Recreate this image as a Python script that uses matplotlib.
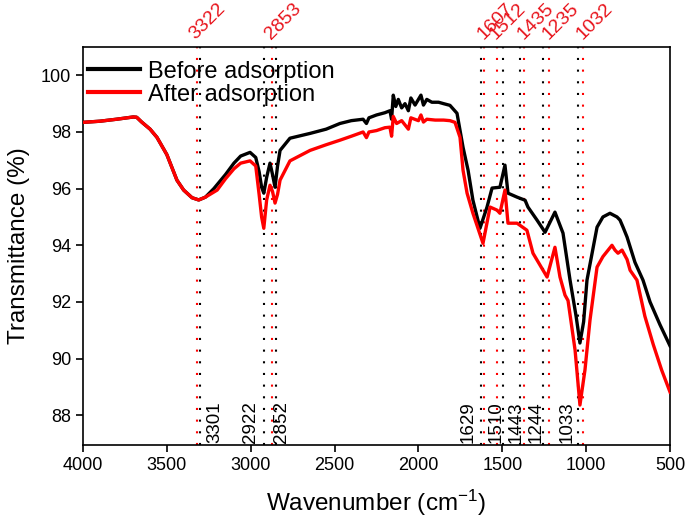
import matplotlib
matplotlib.use("Agg")
import matplotlib.pyplot as plt
import numpy as np

# ============================================================
# DATA
# ============================================================

before_wn = [4000, 3900, 3800, 3700, 3680, 3650, 3600, 3559, 3500, 3440, 3400,
             3350, 3310, 3270, 3220, 3150, 3100, 3060, 3004, 2970, 2950, 2935,
             2922, 2905, 2885, 2870, 2855, 2840, 2825, 2766, 2646, 2550, 2468,
             2400, 2330, 2310, 2295, 2250, 2200, 2170, 2160, 2150, 2135, 2120,
             2100, 2080, 2060, 2045, 2020, 2000, 1985, 1970, 1950, 1920, 1880,
             1850, 1812, 1770, 1734, 1704, 1675, 1633, 1591, 1561, 1514, 1484,
             1466, 1412, 1364, 1347, 1293, 1245, 1186, 1138, 1096, 1060, 1037,
             1015, 995, 935, 900, 858, 816, 798, 780, 756, 709, 661, 619, 560,
             500]
before_T = [98.34, 98.38, 98.45, 98.53, 98.52, 98.35, 98.10, 97.81, 97.20,
            96.30, 95.95, 95.68, 95.60, 95.70, 96.00, 96.50, 96.90, 97.15,
            97.28, 97.10, 96.60, 96.05, 95.84, 96.40, 96.90, 96.50, 96.05,
            96.80, 97.35, 97.78, 97.95, 98.10, 98.30, 98.40, 98.45, 98.30,
            98.50, 98.60, 98.68, 98.75, 98.45, 99.30, 98.90, 99.15, 98.85,
            99.00, 98.75, 99.20, 98.95, 99.15, 99.30, 98.95, 99.15, 99.05,
            99.05, 99.00, 98.94, 98.66, 97.46, 96.65, 95.59, 94.60, 95.35,
            96.02, 96.05, 96.83, 95.84, 95.70, 95.59, 95.35, 94.89, 94.46,
            95.17, 94.43, 92.77, 91.50, 90.55, 91.30, 92.77, 94.64, 95.00,
            95.13, 95.00, 94.89, 94.64, 94.29, 93.40, 92.77, 92.00, 91.20,
            90.45]

after_wn = [4000, 3900, 3800, 3700, 3680, 3650, 3600, 3559, 3500, 3440, 3400,
            3350, 3310, 3270, 3200, 3150, 3100, 3060, 3004, 2970, 2950, 2935,
            2922, 2905, 2885, 2870, 2855, 2840, 2825, 2766, 2646, 2550, 2468,
            2400, 2330, 2310, 2295, 2250, 2200, 2170, 2160, 2150, 2130, 2100,
            2060, 2045, 2000, 1985, 1970, 1950, 1900, 1850, 1812, 1782, 1752,
            1734, 1710, 1675, 1615, 1573, 1531, 1514, 1484, 1466, 1412, 1353,
            1317, 1257, 1233, 1186, 1156, 1126, 1108, 1066, 1037, 1007, 977,
            935, 900, 846, 828, 810, 786, 756, 738, 697, 650, 600, 550, 500]
after_T = [98.34, 98.38, 98.45, 98.53, 98.52, 98.35, 98.10, 97.81, 97.20,
           96.30, 95.95, 95.68, 95.60, 95.70, 95.95, 96.35, 96.70, 96.90,
           96.98, 96.80, 95.80, 95.00, 94.60, 95.60, 96.12, 95.90, 95.49,
           95.80, 96.30, 96.98, 97.35, 97.55, 97.71, 97.85, 98.00, 97.80,
           98.00, 98.05, 98.15, 98.17, 97.85, 98.55, 98.30, 98.40, 98.10,
           98.50, 98.40, 98.60, 98.35, 98.45, 98.42, 98.42, 98.40, 98.34,
           97.81, 96.65, 95.84, 95.13, 94.07, 95.35, 95.24, 95.13, 95.95,
           94.78, 94.78, 94.53, 93.72, 93.12, 92.88, 93.93, 92.88, 92.24,
           92.05, 90.30, 88.36, 89.60, 91.36, 93.23, 93.60, 94.00, 93.83,
           93.72, 93.83, 93.50, 93.12, 92.77, 91.50, 90.50, 89.60, 88.82]

# peak markers: positions where the dotted lines sit, and their labels
red_lines = [3322, 2876, 1607, 1533, 1368, 1220, 1017]
red_labels = ["3322", "2853", "1607", "1512", "1435", "1235", "1032"]

black_lines = [3301, 2922, 2852, 1629, 1494, 1393, 1259, 1047]
black_labels = ["3301", "2922", "2852", "1629", "1510", "1443", "1244", "1033"]
black_label_shift = [15, -13, 6, -13, -7, -4, -7, -11]   # pixels

# ============================================================
# STYLE
# ============================================================

plt.rcParams["font.family"] = ["Liberation Sans", "DejaVu Sans"]
plt.rcParams["mathtext.fontset"] = "custom"
plt.rcParams["mathtext.rm"] = "Liberation Sans"
plt.rcParams["mathtext.it"] = "Liberation Sans:italic"

fig = plt.figure(figsize=(6.85, 5.18), dpi=100)
ax = fig.add_axes([83 / 685, 73 / 518, 587 / 685, 398 / 518])

red_txt = "#e8141c"
dots = (0, (1, 4.6))

# ============================================================
# DOTTED PEAK LINES
# ============================================================

for x in red_lines:
    ax.axvline(x, color="red", lw=1.5, linestyle=dots, zorder=1)

for x in black_lines:
    ax.axvline(x, color="black", lw=1.5, linestyle=dots, zorder=1)

# ============================================================
# SPECTRA
# ============================================================

ax.plot(before_wn, before_T, color="black", lw=2.4, label="Before adsorption", zorder=3)
ax.plot(after_wn, after_T, color="#ff0000", lw=2.4, label="After adsorption", zorder=3)

ax.set_xlim(4000, 500)
ax.set_ylim(86.95, 101.0)
ax.set_xticks(np.arange(4000, 499, -500))
ax.set_yticks(np.arange(88, 101, 2))

# labels
for x, lab in zip(red_lines, red_labels):
    ax.annotate(lab, xy=(x, 1), xycoords=("data", "axes fraction"),
                xytext=(-1, 7), textcoords="offset pixels",
                rotation=45, rotation_mode="anchor", ha="left", va="baseline",
                fontsize=14, color=red_txt, annotation_clip=False)

for x, lab, dx in zip(black_lines, black_labels, black_label_shift):
    ax.annotate(lab, xy=(x, 0), xycoords=("data", "axes fraction"),
                xytext=(dx, 2), textcoords="offset pixels",
                rotation=90, ha="center", va="bottom",
                fontsize=13.5, color="black")

ax.set_xlabel("Wavenumber (cm$^{-1}$)", fontsize=17.5, labelpad=10)
ax.set_ylabel("Transmittance (%)", fontsize=17.5, labelpad=8)

ax.tick_params(direction="out", length=5, width=1.2, labelsize=13,
               top=False, right=False)
for s in ax.spines.values():
    s.set_linewidth(1.2)

leg = ax.legend(loc="upper left", bbox_to_anchor=(0.0085, 0.966),
                frameon=False, fontsize=17, handlelength=2.2,
                handletextpad=0.35, labelspacing=0.05, borderpad=0,
                borderaxespad=0)
for h in leg.get_lines():
    h.set_linewidth(3)

fig.savefig("out.png", dpi=100)
